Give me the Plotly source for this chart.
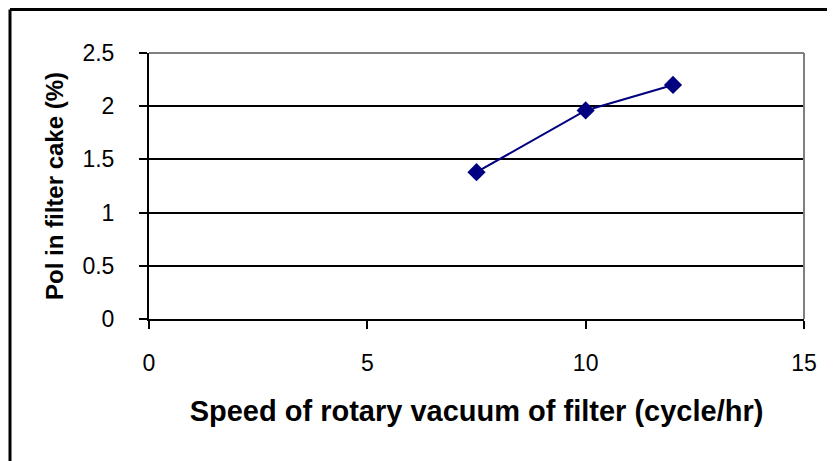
import plotly.graph_objects as go

speed = [7.5, 10, 12]
pol = [1.38, 1.96, 2.2]
x_ticks = [0, 5, 10, 15]
y_ticks = [0, 0.5, 1, 1.5, 2, 2.5]
x_title = "Speed of rotary vacuum of filter (cycle/hr)"
y_title = "Pol in filter cake (%)"

# page body has an 8px margin; figure is sized so it ends at the window edge
OFF = 8
W, H = 835 - OFF, 461 - OFF
L, T = 149 - OFF, 53 - OFF
R = W - (804 - OFF)
B = H - (319 - OFF)
pw, ph = W - L - R, H - T - B

def px(xp):
    return (xp - OFF - L) / pw

def py(yp):
    return (H - B - (yp - OFF)) / ph

fig = go.Figure()
fig.add_trace(go.Scatter(
    x=speed, y=pol, mode="lines+markers",
    line=dict(color="#000080", width=2),
    marker=dict(symbol="diamond", size=14, color="#000080"),
    showlegend=False,
))

font = "Liberation Sans, Arial, sans-serif"
fig.update_layout(
    width=W, height=H,
    margin=dict(l=L, r=R, t=T, b=B),
    paper_bgcolor="white", plot_bgcolor="white",
    font=dict(family=font, color="black", size=23),
    xaxis=dict(
        range=[0, 15], tickvals=x_ticks, ticktext=[str(v) for v in x_ticks],
        showgrid=False, zeroline=False,
        showline=True, linecolor="black", linewidth=2,
        ticks="outside", ticklen=8, tickwidth=2, tickcolor="black",
        tickfont=dict(size=23), ticklabelstandoff=14,
        title=dict(text="<b>" + x_title + "</b>", font=dict(size=29), standoff=26),
    ),
    yaxis=dict(
        range=[0, 2.5], tickvals=y_ticks, ticktext=[str(v) for v in y_ticks],
        showgrid=True, gridcolor="black", gridwidth=2, zeroline=False,
        showline=True, linecolor="black", linewidth=2,
        ticks="outside", ticklen=8, tickwidth=2, tickcolor="black",
        tickfont=dict(size=23), ticklabelstandoff=20,
        title=dict(text="<b>" + y_title + "</b>", font=dict(size=24), standoff=12),
    ),
    shapes=[
        dict(type="line", xref="paper", yref="paper", x0=0, x1=1, y0=1, y1=1,
             line=dict(color="#808080", width=2), layer="above"),
        dict(type="line", xref="paper", yref="paper", x0=1, x1=1, y0=0, y1=1,
             line=dict(color="#808080", width=2), layer="above"),
        dict(type="line", xref="paper", yref="paper", x0=px(10), x1=px(840), y0=py(9.5), y1=py(9.5),
             line=dict(color="black", width=3)),
        dict(type="line", xref="paper", yref="paper", x0=px(10), x1=px(10), y0=py(9.5), y1=py(470),
             line=dict(color="black", width=3)),
    ],
)

fig.write_html("out.html")
